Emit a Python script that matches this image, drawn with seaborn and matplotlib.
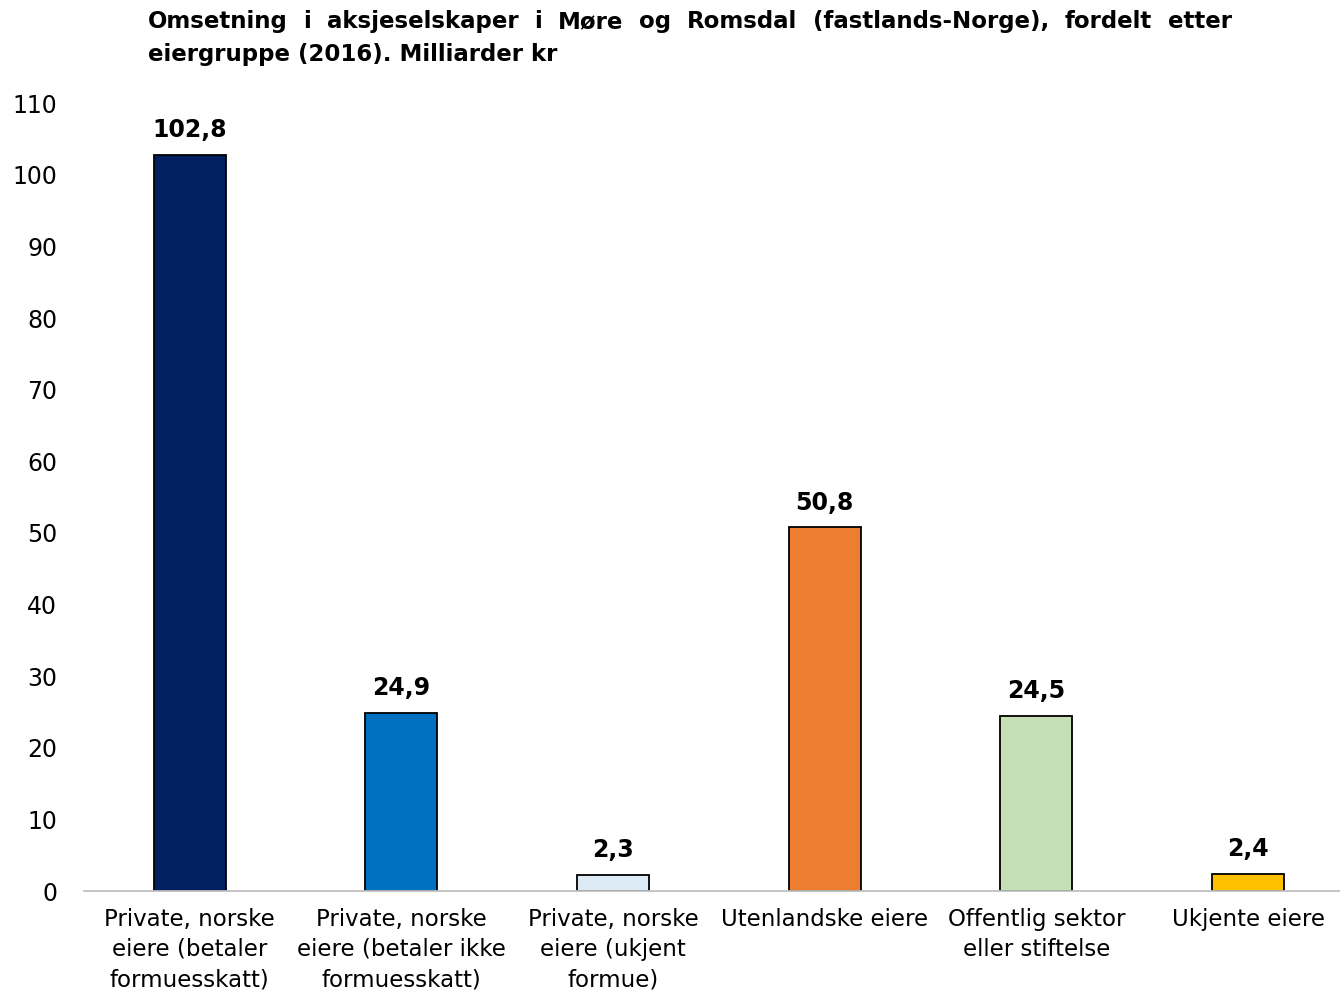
import seaborn as sns
import pandas as pd
import matplotlib.pyplot as plt
from matplotlib import use

use('agg')

categories = ['Private, norske\neiere (betaler\nformuesskatt)',
              'Private, norske\neiere (betaler ikke\nformuesskatt)',
              'Private, norske\neiere (ukjent\nformue)',
              'Utenlandske eiere',
              'Offentlig sektor\neller stiftelse',
              'Ukjente eiere']
values = [102.8, 24.9, 2.3, 50.8, 24.5, 2.4]
value_labels = ['102,8', '24,9', '2,3', '50,8', '24,5', '2,4']
bar_colors = ['#002060', '#0070C0', '#DDEBF7', '#ED7D31', '#C5E0B4', '#FFC000']
title_line1 = 'Omsetning i aksjeselskaper i Møre og Romsdal (fastlands-Norge), fordelt etter'
title_line2 = 'eiergruppe (2016). Milliarder kr'

df = pd.DataFrame({'eiergruppe': categories, 'omsetning': values})

sns.set_theme(style='white')
plt.rcParams['font.family'] = ['DejaVu Sans']
plt.rcParams['text.color'] = 'black'
plt.rcParams['xtick.color'] = 'black'
plt.rcParams['ytick.color'] = 'black'

fig = plt.figure(figsize=(13.4, 9.93), dpi=100)
ax = fig.add_axes([0.0625, 0.1027, 0.948, 0.7933])

sns.barplot(data=df, x='eiergruppe', y='omsetning', hue='eiergruppe',
            palette=bar_colors, legend=False, width=0.34, saturation=1,
            edgecolor='black', linewidth=1.3, ax=ax)

for i, (v, lab) in enumerate(zip(values, value_labels)):
    ax.annotate(lab, (i, v), xytext=(0, 9), textcoords='offset points',
                ha='center', va='bottom', fontsize=17, fontweight='bold')

ax.set_ylim(0, 110)
ax.set_xlim(-0.5, 5.5)
ax.set_yticks(range(0, 111, 10))
ax.tick_params(axis='y', labelsize=17, length=0, pad=19)
ax.tick_params(axis='x', labelsize=16.5, length=0, pad=12)
for t in ax.get_xticklabels():
    t.set_linespacing(1.4)
ax.set_xlabel('')
ax.set_ylabel('')
for side in ['top', 'right', 'left']:
    ax.spines[side].set_visible(False)
ax.spines['bottom'].set_color('#BFBFBF')
ax.spines['bottom'].set_linewidth(1.3)

# justified title: first line spread between x0 and x1 (figure pixels)
x0, x1 = 148 / 1340, 1232 / 1340
y1, y2 = 1 - 10 / 993, 1 - 43 / 993
tkw = dict(fontsize=16.5, fontweight='bold', va='top')
words = title_line1.split(' ')
fig.canvas.draw()
renderer = fig.canvas.get_renderer()
arts = [fig.text(0, y1, w, ha='left', **tkw) for w in words]
widths = [a.get_window_extent(renderer).width / fig.bbox.width for a in arts]
gap = ((x1 - x0) - sum(widths)) / (len(words) - 1)
pos = x0
for a, w in zip(arts, widths):
    a.set_x(pos)
    pos += w + gap
fig.text(x0, y2, title_line2, ha='left', **tkw)

plt.savefig('out.png', dpi=100)
